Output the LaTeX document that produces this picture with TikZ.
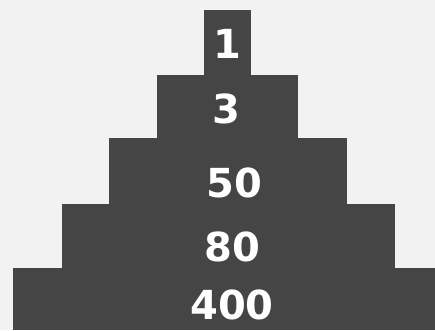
\documentclass[tikz,border=0pt]{standalone}
\usepackage{fontspec}
\setsansfont{DejaVu Sans}
\definecolor{paper}{HTML}{F2F2F2}
\definecolor{slate}{HTML}{454545}
\begin{document}
\begin{tikzpicture}[font=\sffamily\bfseries,x=1pt,y=-1pt,
    tier/.style={fill=slate},
    count/.style={text=white,font=\sffamily\bfseries\fontsize{40}{40}\selectfont,
      inner sep=0pt,anchor=center}]
  \fill[paper] (0,0) rectangle (435,330);
  \useasboundingbox (0,0) rectangle (435,330);

  % tiers, each running down to the base
  \foreach \l/\r/\t in {204/251/10,157/298/75,109/347/138,62/395/204,13/435/268}{
    \fill[tier] (\l,\t) rectangle (\r,330);
  }

  % counts
  \foreach \name/\x/\y/\lab in {one/227/44/1,three/226/109/3,fifty/234/183/50,
      eighty/232/247/80,fourhundred/232/305/400}{
    \node[count] (\name) at (\x,\y) {\lab};
  }
\end{tikzpicture}
\end{document}
